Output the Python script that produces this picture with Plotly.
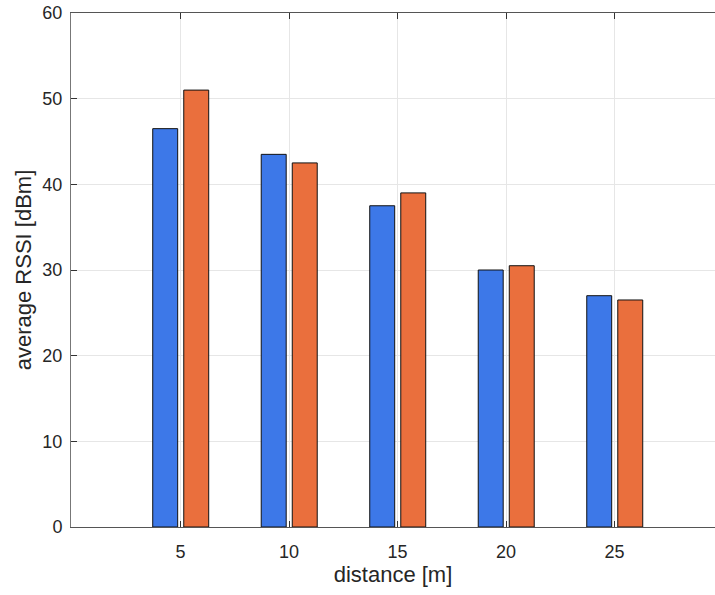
import plotly.graph_objects as go

distances = [5, 10, 15, 20, 25]
series_a = [46.5, 43.5, 37.5, 30.0, 27.0]
series_b = [51.0, 42.5, 39.0, 30.5, 26.5]
y_ticks = [0, 10, 20, 30, 40, 50, 60]

blue = "#3D78E8"
orange = "#EA6F3D"

fig = go.Figure()
fig.add_trace(go.Bar(x=distances, y=series_a, width=1.15, offset=-1.28,
                     marker=dict(color=blue, line=dict(color="#111111", width=1)),
                     showlegend=False))
fig.add_trace(go.Bar(x=distances, y=series_b, width=1.15, offset=0.15,
                     marker=dict(color=orange, line=dict(color="#111111", width=1)),
                     showlegend=False))

fam = "Liberation Sans, Arial, sans-serif"
tick_font = dict(family=fam, size=18, color="#262626")
title_font = dict(family=fam, size=22, color="#262626")

fig.update_layout(
    width=715, height=595,
    margin=dict(l=71, r=0, t=13, b=68),
    plot_bgcolor="white", paper_bgcolor="white",
    barmode="overlay",
    font=tick_font,
    xaxis=dict(
        range=[-0.046, 29.63], tickvals=distances, ticktext=[str(d) for d in distances],
        showgrid=True, gridcolor="#e6e6e6", gridwidth=1,
        showline=True, linecolor="#555555", linewidth=1, mirror="ticks",
        ticks="inside", ticklen=6, tickcolor="#333333",
        ticklabelstandoff=8,
        zeroline=False,
        title=dict(text="distance [m]", font=title_font, standoff=5),
        tickfont=tick_font,
    ),
    yaxis=dict(
        range=[0, 60], tickvals=y_ticks,
        showgrid=True, gridcolor="#e6e6e6", gridwidth=1,
        showline=True, linecolor="#777777", linewidth=1, mirror=False,
        ticks="inside", ticklen=6, tickcolor="#333333",
        ticklabelstandoff=4,
        zeroline=False,
        title=dict(text="average RSSI [dBm]", font=title_font, standoff=4),
        tickfont=tick_font,
    ),
)

fig.write_html("out.html", config={"displayModeBar": False},
               post_script="document.body.style.margin='0';document.body.style.overflow='hidden';")
